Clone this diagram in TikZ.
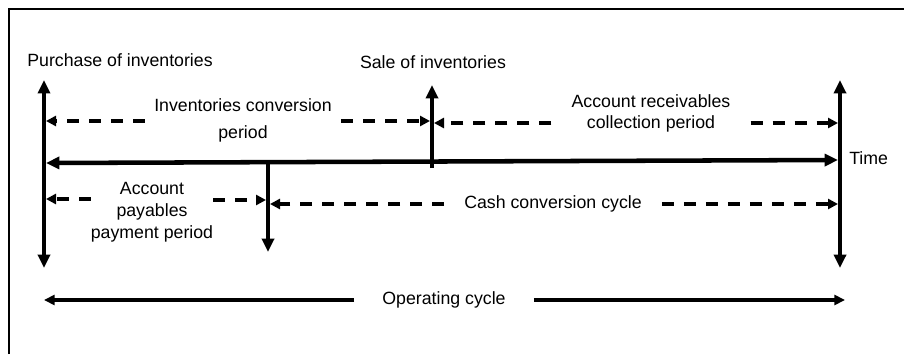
\documentclass[tikz,border=0pt]{standalone}
\usepackage{fontspec}
\setmainfont{Liberation Sans}
\usetikzlibrary{arrows.meta}
\begin{document}
\begin{tikzpicture}[x=0.75pt,y=-0.75pt,
        bigarrow/.style={line width=3.4pt,-{Triangle[length=10pt,width=9pt]}},
        bigboth/.style={line width=3.4pt,{Triangle[length=10pt,width=9pt]}-{Triangle[length=10pt,width=9pt]}},
        dasharrow/.style={line width=2.4pt,dash pattern=on 9pt off 7.5pt,-{Triangle[length=7.5pt,width=7.5pt]}},
        span/.style={line width=2.4pt,-{Triangle[length=8pt,width=7.5pt]}},
        lbl/.style={font=\fontsize{13.3}{16.5}\selectfont,align=center,inner sep=0pt}]
    \useasboundingbox (0,0) rectangle (904,354);
    \draw[line width=1.9pt] (9,354) -- (9,9) -- (904,9);
    % events on the time line
    \coordinate (buy) at (44,163);
    \coordinate (pay) at (268,162);
    \coordinate (sell) at (432,162);
    \coordinate (cash) at (840,160);
    \coordinate (buytop) at (44,80);
    \coordinate (buybot) at (44,268);
    \coordinate (selltop) at (432,85);
    \coordinate (sellbot) at (432,168);
    \coordinate (paybot) at (268,252);
    \coordinate (cashtop) at (840,80);
    \coordinate (cashbot) at (840,268);
    \draw[bigboth] (buybot) -- (buytop);
    \draw[bigboth] (cashtop) -- (cashbot);
    \draw[bigarrow] (sellbot) -- (selltop);
    \draw[bigarrow] (pay) -- (paybot);
    \draw[bigboth] ([xshift=1.5pt]buy) -- ([xshift=-1.5pt]cash);
    \node[lbl] (buytxt) at (120,60) {Purchase of inventories};
    \node[lbl] (selltxt) at (433,62) {Sale of inventories};
    \node[lbl,anchor=west] (time) at (849,158) {Time};
    % periods
    \node[lbl,inner xsep=7pt] (icp) at (243,120.5) {Inventories conversion\\[3.5pt]period};
    \node[lbl,inner xsep=15pt] (arcp) at (651,113.5) {Account receivables\\[-0.5pt]collection period};
    \node[lbl,inner xsep=0pt] (app) at (152,212) {Account\\payables\\payment period};
    \node[lbl,inner xsep=15pt] (ccc) at (553,204) {Cash conversion cycle};
    \node[lbl,inner xsep=21pt] (opc) at (444,300) {Operating cycle};
    \coordinate (icpL) at (46,121);
    \coordinate (icpR) at (430,121);
    \coordinate (arcpL) at (434,123);
    \coordinate (arcpR) at (838,123);
    \coordinate (appL) at (46,199);
    \coordinate (appR) at (266,200);
    \coordinate (cccL) at (270,204);
    \coordinate (cccR) at (838,204);
    \coordinate (opcL) at (44,300);
    \coordinate (opcR) at (845,300);
    \draw[dasharrow] (icp.west |- icpL) -- (icpL);
    \draw[dasharrow] (icp.east |- icpR) -- (icpR);
    \draw[dasharrow] (arcp.west |- arcpL) -- (arcpL);
    \draw[dasharrow] (arcp.east |- arcpR) -- (arcpR);
    \draw[dasharrow] (app.west |- appL) -- (appL);
    \draw[dasharrow] (app.east |- appR) -- (appR);
    \draw[dasharrow] (ccc.west |- cccL) -- (cccL);
    \draw[dasharrow] (ccc.east |- cccR) -- (cccR);
    \draw[span] (opc.west |- opcL) -- (opcL);
    \draw[span] (opc.east |- opcR) -- (opcR);
\end{tikzpicture}
\end{document}
